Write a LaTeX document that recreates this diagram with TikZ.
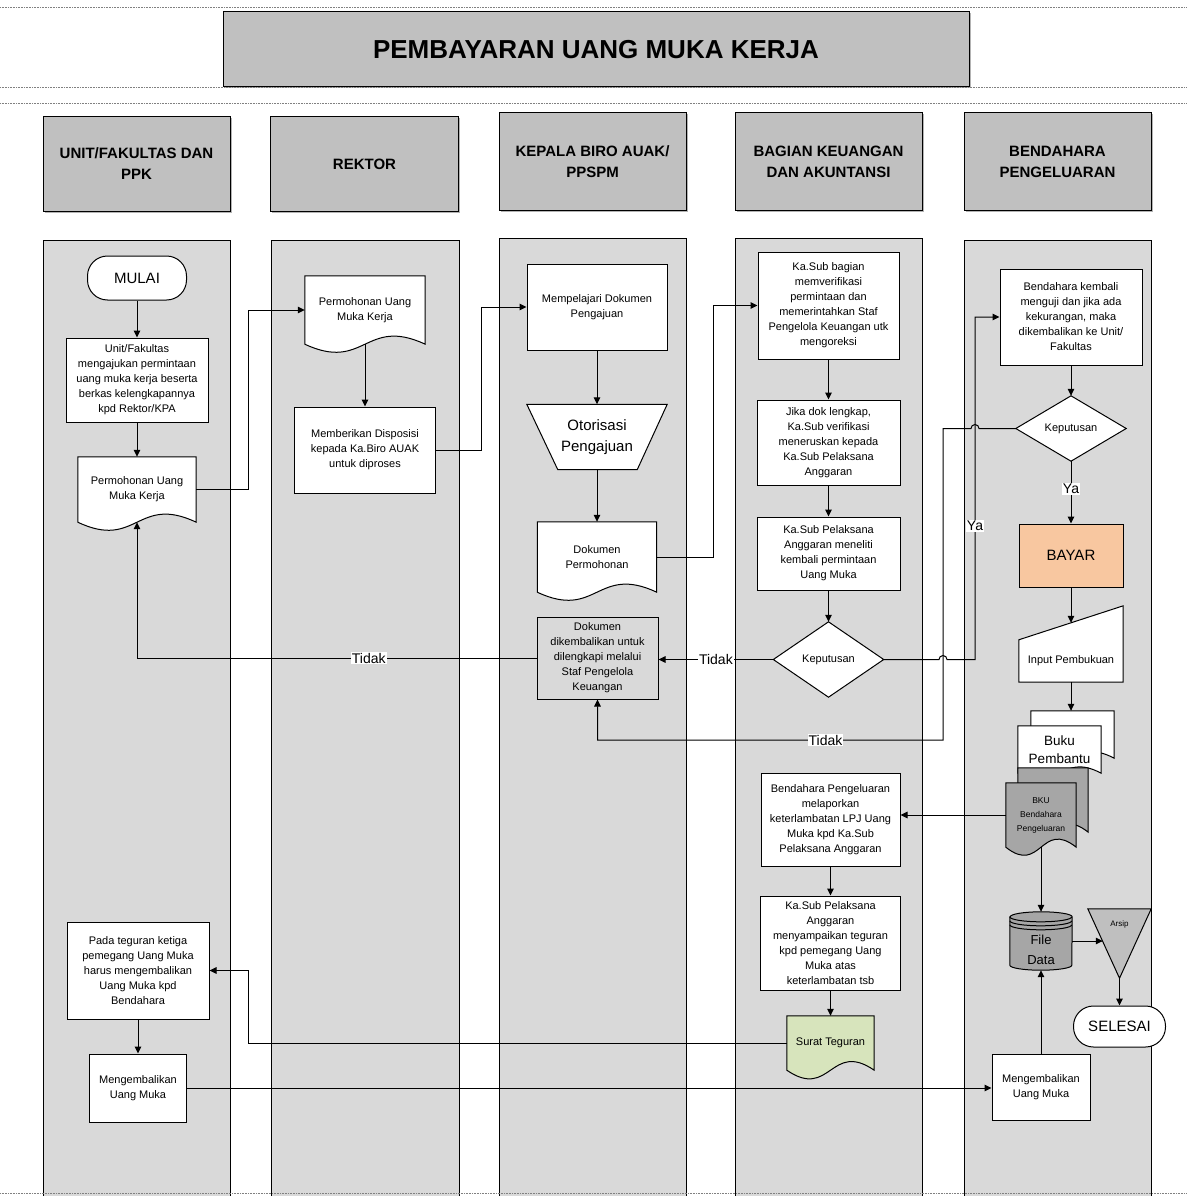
\documentclass[tikz,border=0pt]{standalone}
\usepackage{fontspec}
\setmainfont{Liberation Sans}
\usetikzlibrary{arrows.meta,calc,shadows}
\pgfdeclarelayer{lanes}
\pgfdeclarelayer{shapes}
\pgfsetlayers{lanes,shapes,main}
\definecolor{lanegray}{HTML}{D9D9D9}
\definecolor{headgray}{HTML}{C0C0C0}
\definecolor{peach}{HTML}{F8C7A0}
\definecolor{sage}{HTML}{D7E4BC}
\definecolor{midgray}{HTML}{A6A6A6}
\definecolor{trigray}{HTML}{BFBFBF}
\newcommand{\wavedoc}[5]{%
  \draw[shapeline,fill=#2] ($(#1.north west)+(#3,#4)$) -- ($(#1.north east)+(#3,#4)$) -- ($(#1.south east)+(#3,#4)$)
   .. controls ($(#1.south)+(#3,#4)+(0,-#5)$) and ($(#1.south)+(#3,#4)+(0,#5)$) .. ($(#1.south west)+(#3,#4)$) -- cycle;}
\begin{document}
\begin{tikzpicture}[x=1pt,y=-1pt,
  txt/.style={font=\fontsize{11}{15}\selectfont, align=center, inner sep=1pt},
  proc/.style={txt, draw, fill=white, line width=1pt},
  grayproc/.style={txt, draw, fill=lanegray, line width=1pt},
  plain/.style={txt, draw=none},
  shapeline/.style={draw=black, line width=1pt},
  term/.style={draw, fill=white, line width=1pt, rounded corners=20pt, font=\fontsize{15}{18}\selectfont},
  head/.style={draw, fill=headgray, line width=1pt, align=center, font=\fontsize{15}{21}\selectfont\bfseries, drop shadow={shadow xshift=1.5pt,shadow yshift=-1.5pt,opacity=0.6}},
  lane/.style={draw, fill=lanegray, line width=1pt},
  conn/.style={line width=1pt},
  arr/.style={conn, -{Triangle[length=7pt,width=6.5pt]}},
  lbl/.style={fill=white, inner sep=1pt, font=\fontsize{14}{16}\selectfont},
  dotline/.style={gray, line width=0.8pt, dash pattern=on 0.8pt off 0.8pt},
]
\useasboundingbox (0,0) rectangle (1187,1196);

\draw[dotline] (0,7) -- (1187,7);
\draw[dotline] (0,87) -- (1187,87);
\draw[dotline] (0,103) -- (1187,103);
\draw[dotline] (0,1193) -- (1187,1193);

\node[head, font=\fontsize{26}{30}\selectfont\bfseries, minimum width=746, minimum height=75] (title) at (596,49.5) {PEMBAYARAN UANG MUKA KERJA};

\node[head, minimum width=187, minimum height=94] (h1) at (136.5,164) {UNIT/FAKULTAS DAN\\PPK};
\node[head, minimum width=188, minimum height=94] (h2) at (364.5,164) {REKTOR};
\node[head, minimum width=187, minimum height=97] (h3) at (592.5,161.5) {KEPALA BIRO AUAK/\\PPSPM};
\node[head, minimum width=187, minimum height=97] (h4) at (828.5,161.5) {BAGIAN KEUANGAN\\DAN AKUNTANSI};
\node[head, minimum width=187, minimum height=97] (h5) at (1057.5,161.5) {BENDAHARA\\PENGELUARAN};

\begin{pgfonlayer}{lanes}
\draw[lane] (43,240) rectangle (230,1200);
\draw[lane] (271,240) rectangle (459,1200);
\draw[lane] (499,238) rectangle (686,1200);
\draw[lane] (735,238) rectangle (922,1200);
\draw[lane] (964,240) rectangle (1151,1200);
\end{pgfonlayer}

% column 1
\node[term, minimum width=99, minimum height=44] (start) at (137,278) {MULAI};
\node[proc, minimum width=142, minimum height=84] (u1) at (137,380) {Unit/Fakultas\\mengajukan permintaan\\uang muka kerja beserta\\berkas kelengkapannya\\kpd Rektor/KPA};
\node[plain, minimum width=118, minimum height=65] (d1) at (137,489.5) {Permohonan Uang\\Muka Kerja};
\node[proc, minimum width=142, minimum height=97] (p1) at (138,970.5) {Pada teguran ketiga\\pemegang Uang Muka\\harus mengembalikan\\Uang Muka kpd\\Bendahara};
\node[proc, minimum width=97, minimum height=68] (m1) at (138,1088) {Mengembalikan\\Uang Muka};

% column 2
\node[plain, minimum width=120, minimum height=68] (d2) at (365,310) {Permohonan Uang\\Muka Kerja};
\node[proc, minimum width=141, minimum height=86] (b2) at (365,450) {Memberikan Disposisi\\kepada Ka.Biro AUAK\\untuk diproses};

% column 3
\node[proc, minimum width=140, minimum height=86] (b3) at (597,307) {Mempelajari Dokumen\\Pengajuan};
\node[plain, font=\fontsize{15}{21}\selectfont, minimum width=140, minimum height=65] (oto) at (597,437) {Otorisasi\\Pengajuan};
\node[plain, minimum width=119, minimum height=70] (d3) at (597,557) {Dokumen\\Permohonan};
\node[grayproc, minimum width=121, minimum height=82] (dk) at (597.5,658) {Dokumen\\dikembalikan untuk\\dilengkapi melalui\\Staf Pengelola\\Keuangan};

% column 4
\node[proc, minimum width=141, minimum height=107] (k1) at (828.5,305.5) {Ka.Sub bagian\\memverifikasi\\permintaan dan\\memerintahkan Staf\\Pengelola Keuangan utk\\mengoreksi};
\node[proc, minimum width=143, minimum height=85] (k2) at (828.5,442.5) {Jika dok lengkap,\\Ka.Sub verifikasi\\meneruskan kepada\\Ka.Sub Pelaksana\\Anggaran};
\node[proc, minimum width=143, minimum height=73] (k3) at (828.5,553.5) {Ka.Sub Pelaksana\\Anggaran meneliti\\kembali permintaan\\Uang Muka};
\node[plain, minimum width=110, minimum height=75] (kp1) at (828.5,659.5) {Keputusan};
\node[proc, minimum width=139, minimum height=93] (k4) at (830.5,819.5) {Bendahara Pengeluaran\\melaporkan\\keterlambatan LPJ Uang\\Muka kpd Ka.Sub\\Pelaksana Anggaran};
\node[proc, minimum width=140, minimum height=94] (k5) at (830.5,943) {Ka.Sub Pelaksana\\Anggaran\\menyampaikan teguran\\kpd pemegang Uang\\Muka atas\\keterlambatan tsb};
\node[plain, minimum width=87, minimum height=54] (st) at (830.5,1043) {Surat Teguran};

% column 5
\node[proc, minimum width=142, minimum height=96] (bk) at (1071,317) {Bendahara kembali\\menguji dan jika ada\\kekurangan, maka\\dikembalikan ke Unit/\\Fakultas};
\node[plain, minimum width=110, minimum height=65] (kp2) at (1071,428.5) {Keputusan};
\node[proc, fill=peach, font=\fontsize{15}{18}\selectfont, minimum width=104, minimum height=63] (bayar) at (1071,555.5) {BAYAR};
\node[plain, minimum width=104, minimum height=42] (inp) at (1071,661) {Input Pembukuan};
\node[plain, font=\fontsize{13.5}{18}\selectfont, minimum width=83, minimum height=47] (bp) at (1059.5,749.5) {Buku\\Pembantu};
\node[plain, font=\fontsize{8.5}{14}\selectfont, minimum width=70, minimum height=64] (bku) at (1041,815) {BKU\\Bendahara\\Pengeluaran};
\node[plain, minimum width=62, minimum height=58, label={[font=\fontsize{13}{20}\selectfont,align=center,yshift=-9pt]center:File\\Data}] (fd) at (1041,941) {};
\node[plain, minimum width=63, minimum height=69, label={[font=\fontsize{8}{9}\selectfont,anchor=north,yshift=-8pt]north:Arsip}] (ar) at (1119.5,943.5) {};
\node[term, minimum width=92, minimum height=41] (sel) at (1119.5,1026.5) {SELESAI};
\node[proc, minimum width=98, minimum height=66] (m5) at (1041,1087) {Mengembalikan\\Uang Muka};

\begin{pgfonlayer}{shapes}
\wavedoc{d1}{white}{0}{0}{28}
\wavedoc{d2}{white}{0}{0}{28}
\wavedoc{d3}{white}{0}{0}{28}
\wavedoc{st}{sage}{0}{0}{30}
\wavedoc{bp}{white}{13}{-15}{22}
\wavedoc{bp}{white}{0}{0}{22}
\wavedoc{bku}{midgray}{12}{-15}{28}
\wavedoc{bku}{midgray}{0}{0}{28}
\filldraw[shapeline, fill=white] (oto.north west) -- (oto.north east) -- ($(oto.south east)+(-30,0)$) -- ($(oto.south west)+(31,0)$) -- cycle;
\filldraw[shapeline, fill=white] (kp1.north) -- (kp1.east) -- (kp1.south) -- (kp1.west) -- cycle;
\filldraw[shapeline, fill=white] (kp2.north) -- (kp2.east) -- (kp2.south) -- (kp2.west) -- cycle;
\filldraw[shapeline, fill=white] (inp.south west) -- (inp.south east) -- ($(inp.north east)+(0,-34)$) -- (inp.north west) -- cycle;
\filldraw[shapeline, fill=midgray] ($(fd.north west)+(0,5)$) -- ($(fd.south west)+(0,-5)$) arc[start angle=180, end angle=360, x radius=31pt, y radius=5pt] -- ($(fd.north east)+(0,5)$) arc[start angle=0, end angle=180, x radius=31pt, y radius=5pt] -- cycle;
\foreach \dy in {5,9,13} \draw[shapeline] ($(fd.north west)+(0,\dy)$) arc[start angle=180, end angle=360, x radius=31pt, y radius=5pt];
\filldraw[shapeline, fill=trigray] (ar.north west) -- (ar.north east) -- (ar.south) -- cycle;
\end{pgfonlayer}

% routing coordinates
\coordinate (vxA) at (248,0);
\coordinate (vxB) at (481,0);
\coordinate (vxC) at (713,0);
\coordinate (vxD) at (943,0);
\coordinate (vxE) at (975,0);
\coordinate (yT) at (0,740);

\draw[arr] (start.south) -- (start.south |- u1.north);
\draw[arr] (u1.south) -- (u1.south |- d1.north);
\draw[arr] (d1.east) -- (d1.east -| vxA) -- (d2.west -| vxA) -- (d2.west);
\draw[arr] (d2.south) -- (d2.south |- b2.north);
\draw[arr] (b2.east) -- (b2.east -| vxB) -- (b3.west -| vxB) -- (b3.west);
\draw[arr] (b3.south) -- (b3.south |- oto.north);
\draw[arr] (oto.south) -- (oto.south |- d3.north);
\draw[arr] (d3.east) -- (d3.east -| vxC) -- (k1.west -| vxC) -- (k1.west);
\draw[arr] (k1.south) -- (k1.south |- k2.north);
\draw[arr] (k2.south) -- (k2.south |- k3.north);
\draw[arr] (k3.south) -- (k3.south |- kp1.north);
\draw[arr] (kp1.west) -- node[lbl]{Tidak} (kp1.west -| dk.east);
\draw[arr] (dk.west) -- node[lbl, pos=0.42]{Tidak} (dk.west -| d1.south) -- (d1.south);
\draw[arr] (kp1.east) -- ($(kp1.east -| vxD)+(-4,0)$) arc[start angle=180, end angle=0, radius=4pt] -- (kp1.east -| vxE) -- node[lbl, pos=0.39]{Ya} (bk.west -| vxE) -- (bk.west);
\draw[arr] (bk.south) -- (bk.south |- kp2.north);
\draw[arr] (kp2.south) -- node[lbl, pos=0.45]{Ya} (kp2.south |- bayar.north);
\draw[arr] (kp2.west) -- ($(kp2.west -| vxE)+(4,0)$) arc[start angle=0, end angle=180, radius=4pt] -- (kp2.west -| vxD) -- (yT -| vxD) -- node[lbl, pos=0.34]{Tidak} (yT -| dk.south) -- (dk.south);
\draw[arr] (bayar.south) -- ($(inp.north)+(0,-17)$);
\draw[arr] (inp.south) -- ($(inp.south |- bp.north)+(0,-15)$);
\draw[arr] (bku.west) -- (bku.west -| k4.east);
\draw[arr] (bku.south) -- (bku.south |- fd.north);
\draw[arr] (fd.east) -- ($(fd.east -| ar.west)+(15,0)$);
\draw[arr] (ar.south) -- (ar.south |- sel.north);
\draw[arr] (m5.north) -- (m5.north |- fd.south);
\draw[arr] (m1.east) -- (m1.east -| m5.west);
\draw[arr] (p1.south) -- (p1.south |- m1.north);
\draw[arr] (k4.south) -- (k4.south |- k5.north);
\draw[arr] (k5.south) -- (k5.south |- st.north);
\draw[arr] (st.west) -- (st.west -| vxA) -- (p1.east -| vxA) -- (p1.east);
\end{tikzpicture}
\end{document}
